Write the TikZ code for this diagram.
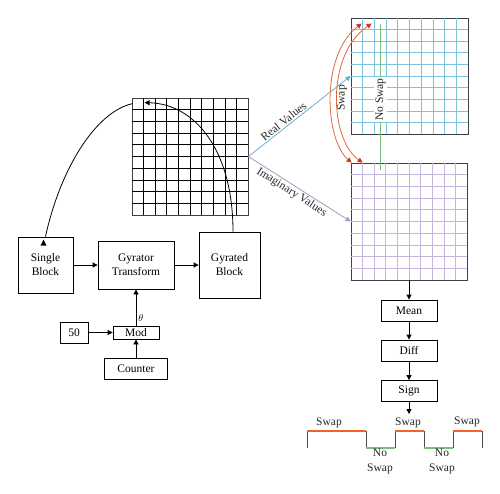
\documentclass[tikz,border=0pt]{standalone}
\usepackage{fontspec}
\setmainfont{Liberation Serif}
\usetikzlibrary{arrows.meta,calc}
\definecolor{realblue}{RGB}{126, 196, 220}
\definecolor{realarrow}{RGB}{95, 180, 210}
\definecolor{imagpurple}{RGB}{196, 180, 222}
\definecolor{imagarrow}{RGB}{170, 150, 205}
\definecolor{swapred}{RGB}{222, 105, 60}
\definecolor{swaptip}{RGB}{205, 55, 30}
\definecolor{waveorange}{RGB}{240, 100, 40}
\definecolor{nogreen}{RGB}{125, 190, 125}

\begin{document}
\begin{tikzpicture}[x=1pt,y=-1pt,
    >={Triangle[width=5pt,length=5pt]},
    box/.style={draw,line width=0.8pt,align=center,inner sep=1pt,font=\fontsize{11.5}{14}\selectfont},
    cellbox/.style={draw=black!75,line width=0.8pt,minimum width=116pt,minimum height=117pt,inner sep=0pt},
    lbl/.style={font=\fontsize{11.5}{14}\selectfont,text=black!85,inner sep=1.5pt,align=center},
    swapline/.style={draw=swapred,line width=0.8pt,{Triangle[width=5pt,length=5pt,color=swaptip]}-{Triangle[width=5pt,length=5pt,color=swaptip]}}]
\useasboundingbox (0,0) rectangle (500,493);

% Blocks
\node[box,minimum width=55pt,minimum height=56pt] (single) at (45.5,265) {Single\\Block};
\node[box,minimum width=76pt,minimum height=48pt] (gyrator) at (136,265) {Gyrator\\Transform};
\node[box,minimum width=61pt,minimum height=66pt] (gyrated) at (229.5,265) {Gyrated\\Block};
\node[box,minimum width=46pt,minimum height=13pt,inner sep=0pt] (mod) at (136,332.5) {Mod};
\node[box,minimum width=28pt,minimum height=21pt] (fifty) at (74,332.5) {50};
\node[box,minimum width=63pt,minimum height=21pt] (counter) at (136,368.5) {Counter};

% Grids
\node[cellbox] (blk) at (190,156.5) {};
\node[cellbox,minimum width=117pt,minimum height=116pt] (real) at (409.5,76) {};
\node[cellbox] (imag) at (409,221.5) {};
\foreach \g/\c in {blk/black,real/realblue,imag/imagpurple} {
  \foreach \i in {1,...,9} {
    \draw[\c,line width=0.7pt] ($(\g.north west)!\i/10!(\g.north east)$) -- ($(\g.south west)!\i/10!(\g.south east)$);
    \draw[\c,line width=0.7pt] ($(\g.north west)!\i/10!(\g.south west)$) -- ($(\g.north east)!\i/10!(\g.south east)$);
  }
}

% Connections
\draw[->,line width=0.8pt] (single) -- (gyrator);
\draw[->,line width=0.8pt] (gyrator) -- (gyrated);
\draw[->,line width=0.8pt] (mod) -- node[right,pos=0.2,inner sep=2pt] {$\theta$} (gyrator);
\draw[->,line width=0.8pt] (fifty) -- (mod);
\draw[->,line width=0.8pt] (counter) -- (mod);

% Loop back to the block
\coordinate (blkin) at ([shift={(1,6)}]blk.north west);
\coordinate (blktop) at ([shift={(13,5)}]blk.north west);
\draw[line width=0.8pt] (single.north) .. controls (60,170) and (95,112) .. (blkin);
\fill ([shift={(-5,9)}]single.north) -- ++(3,-6) -- ++(3,6) -- cycle;
\draw[->,line width=0.8pt] ([xshift=3.5pt]gyrated.north) .. controls (233,150) and (195,104) .. (blktop);

% Real and imaginary parts
\draw[->,realarrow,line width=0.8pt] (blk.east) -- node[lbl,above,sloped,pos=0.38] {Real Values} (real.west);
\draw[->,imagarrow,line width=0.8pt] (blk.east) -- node[lbl,below,sloped,pos=0.46] {Imaginary Values} (imag.west);

% Swap / no swap
\coordinate (sa1) at ([shift={(11,6)}]real.north west);
\coordinate (sa2) at ([shift={(21,6)}]real.north west);
\coordinate (sb1) at ([xshift=1pt]imag.north west);
\coordinate (sb2) at ([xshift=12pt]imag.north west);
\draw[swapline] (sa1) .. controls (320,55) and (325,140) .. (sb1);
\draw[swapline] (sa2) .. controls (325,55) and (330,140) .. (sb2);
\node[lbl,rotate=90] (swaptxt) at (342,98) {Swap};
\draw[nogreen,line width=0.9pt] ([shift={(30,6)}]real.north west) -- node[lbl,pos=0.52,rotate=90,fill=white] {No Swap} ([shift={(30,7)}]imag.north west);

% Decision chain
\node[box,minimum width=56pt,minimum height=21pt] (mean) at (409,310.5) {Mean};
\node[box,minimum width=56pt,minimum height=21pt] (diff) at (409,350.5) {Diff};
\node[box,minimum width=56pt,minimum height=21pt] (sign) at (409,391) {Sign};
\coordinate (wave) at (409,414);
\draw[->,line width=0.8pt] (imag) -- (mean);
\draw[->,line width=0.8pt] (mean) -- (diff);
\draw[->,line width=0.8pt] (diff) -- (sign);
\draw[->,line width=0.8pt] (sign) -- (wave);

% Sign wave
\draw[black!70,line width=0.8pt] (307,431) -- (307,448) (366,431) -- (366,448) (395,448) -- (395,431)
  (424,431) -- (424,448) (453,448) -- (453,431) (482,431) -- (482,448);
\draw[waveorange,line width=1.2pt] (307,431) -- (366,431) (395,431) -- (424,431) (453,431) -- (482,431);
\draw[nogreen,line width=1.2pt] (366,448) -- (395,448) (424,448) -- (453,448);
\node[lbl] (sw1) at (329,423) {Swap};
\node[lbl] (sw2) at (408,423) {Swap};
\node[lbl] (sw3) at (467,422) {Swap};
\node[lbl,font=\fontsize{11.5}{15}\selectfont] (ns1) at (380,461) {No\\Swap};
\node[lbl,font=\fontsize{11.5}{15}\selectfont] (ns2) at (442,461) {No\\Swap};
\end{tikzpicture}
\end{document}
